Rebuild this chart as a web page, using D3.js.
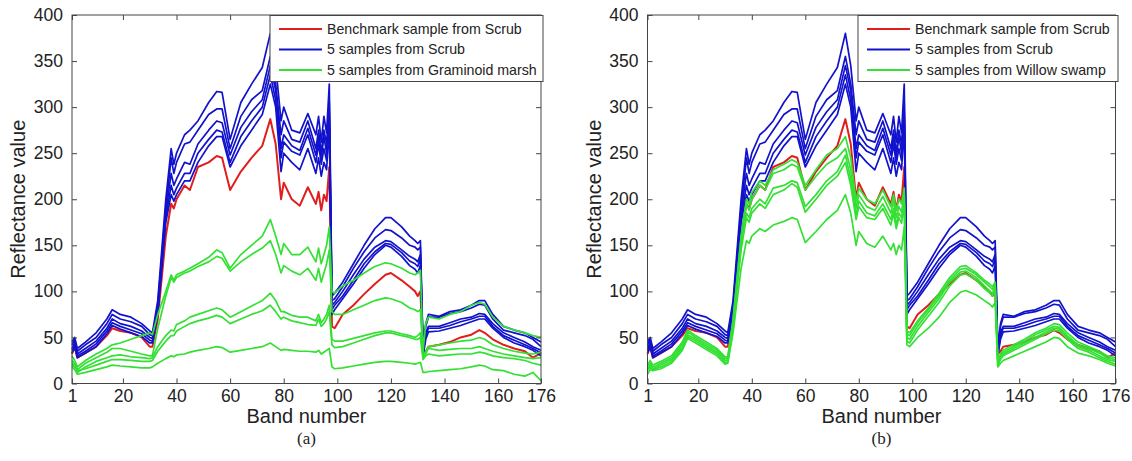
<!DOCTYPE html>
<html><head><meta charset="utf-8">
<script src="https://cdn.jsdelivr.net/npm/d3@7"></script>
<style>body{margin:0;background:#fff}svg{display:block}</style>
</head><body>
<svg id="chart" width="1132" height="461"></svg>
<script>
// ---------- data ----------
const bands = [1,2,3,6,10,14,16,19,23,27,30,31,33,36,38,39,40,43,45,48,52,55,57,60,64,68,72,75,77,79,80,83,86,89,92,93,94,95,96,97,98,99,102,106,110,114,118,120,124,127,129,130,131,132,133,134,138,142,146,150,153,155,158,162,166,170,173,176];
const xTickValues = [1,20,40,60,80,100,120,140,160,176];
const yTickValues = [0,50,100,150,200,250,300,350,400];

const benchmarkScrub = [32,40,28,33,40,52,60,57,55,50, 40,40,70,160,195,190,200,215,210,235, 240,247,245,210,230,245,258,287,260,200, 218,200,193,213,195,208,188,205,198,235, 62,60,75,85,97,108,118,120,112,105, 100,95,100,32,35,40,42,45,50,53, 58,55,48,42,38,35,28,33];

const scrub1 = [45,50,38,45,55,70,80,75,72,65, 57,55,90,200,255,238,250,270,275,285, 305,317,316,265,305,325,343,380,345,285, 300,275,272,293,270,290,262,290,272,325, 95,98,110,130,150,168,180,180,170,160, 155,152,155,38,65,75,73,78,80,85, 90,90,75,62,58,55,50,45];
const scrub2 = [42,48,35,42,50,65,75,70,67,62, 53,52,85,190,245,228,240,260,262,275, 292,298,298,255,290,308,318,355,325,270, 285,265,262,285,255,275,250,275,260,305, 90,92,105,125,143,158,167,166,158,150, 148,145,148,35,62,72,72,76,78,82, 86,85,70,58,55,52,48,40];
const scrub3 = [38,45,32,38,46,60,70,65,62,57, 50,49,80,185,228,215,222,240,238,260, 275,285,283,248,278,295,308,345,318,255, 270,258,253,277,248,268,245,268,250,295, 85,88,100,118,135,148,155,154,145,138, 135,132,140,33,55,62,62,66,70,72, 76,75,65,55,50,45,40,36];
const scrub4 = [36,42,30,35,43,57,66,62,58,54, 47,46,78,180,215,205,212,228,228,250, 265,275,273,240,268,285,300,335,308,245, 262,252,248,270,240,260,238,255,242,288, 80,85,95,112,130,143,152,151,142,133, 130,127,135,32,52,60,60,63,67,70, 73,73,62,52,47,42,38,33];
const scrub5 = [33,40,28,33,40,54,63,59,55,51, 44,44,75,175,205,198,205,220,220,240, 258,268,268,235,258,275,292,325,300,230, 250,240,232,255,228,245,225,240,232,280, 75,80,92,108,125,140,150,148,138,128, 124,120,128,30,48,56,57,60,63,67, 70,70,60,50,44,40,36,30];

const graminoid1 = [30,25,18,25,32,38,42,44,48,52, 55,53,75,100,118,112,118,122,125,130, 137,145,142,125,140,150,160,178,160,140, 152,140,140,148,132,147,130,140,150,170, 100,98,106,112,120,127,131,130,125,120, 118,120,123,35,65,72,70,75,78,85, 88,86,72,62,58,55,52,50];
const graminoid2 = [25,22,15,22,28,34,38,38,35,32, 30,30,60,95,115,110,115,120,122,127, 132,138,136,122,132,140,147,155,140,120, 128,122,118,125,112,125,110,120,130,145, 78,75,75,80,85,90,93,92,88,82, 80,78,80,30,35,40,42,44,46,47, 50,48,42,38,35,33,32,34];
const graminoid3 = [22,20,12,18,24,28,30,31,29,28, 27,28,40,52,58,57,64,68,72,75, 79,82,80,72,78,84,90,98,90,78, 78,74,72,72,68,75,66,70,75,85, 48,46,46,49,52,55,57,57,54,52, 50,52,55,28,32,38,36,37,38,38, 40,38,35,32,30,28,27,28];
const graminoid4 = [20,18,14,16,20,24,26,26,25,24, 24,25,35,46,52,52,57,62,65,68, 71,74,72,65,70,75,79,85,78,70, 72,68,66,64,63,70,62,65,70,78, 42,39,40,44,48,52,55,55,52,50, 48,48,50,26,30,32,30,31,32,32, 34,33,30,28,27,25,22,20];
const graminoid5 = [18,15,10,12,15,18,20,19,18,17, 17,18,22,27,30,29,31,32,34,36, 38,40,39,34,36,38,40,44,40,36, 37,36,35,35,34,36,32,34,36,38, 18,16,17,19,21,23,24,24,23,22, 21,22,23,12,12,13,14,15,16,18, 20,19,15,14,10,8,12,3];

const willow1 = [20,25,20,24,30,45,58,52,45,38, 29,29,70,160,200,195,207,220,215,232, 238,243,240,215,232,248,255,268,245,198, 212,200,195,210,192,205,188,200,195,212, 57,55,68,82,98,115,127,128,120,112, 108,105,110,25,32,36,42,48,55,60, 65,64,55,45,40,35,30,28];
const willow2 = [18,22,18,22,28,43,56,50,43,36, 27,27,68,158,195,188,200,215,210,228, 232,238,235,210,225,238,245,255,232,190, 205,192,188,203,185,198,180,192,186,207, 54,52,66,80,95,112,124,125,118,110, 105,102,108,23,30,34,40,46,53,58, 62,61,52,42,38,33,28,26];
const willow3 = [16,20,16,20,26,40,53,48,41,34, 25,25,65,150,185,180,190,200,195,212, 215,220,218,192,205,220,230,248,222,182, 198,185,182,195,178,190,172,185,180,200, 50,48,62,77,92,110,121,122,115,106, 100,98,105,21,28,32,38,44,50,56, 60,59,50,40,36,30,26,24];
const willow4 = [14,18,15,18,24,38,51,46,39,32, 23,23,62,145,180,175,185,195,190,205, 210,217,213,186,200,215,225,240,215,178, 192,180,178,190,172,185,168,180,174,195, 46,44,58,73,88,106,118,119,112,103, 98,95,102,19,26,30,36,42,48,54, 58,57,48,38,34,28,24,21];
const willow5 = [10,15,14,16,22,36,49,44,37,30, 21,22,55,125,155,152,160,168,165,172, 176,180,178,153,165,178,188,205,185,150, 165,152,148,160,145,152,140,150,145,170, 42,40,50,60,72,88,99,101,96,90, 86,83,88,18,22,25,30,35,40,45, 50,49,40,33,30,26,22,19];

const legendA = ["Benchmark sample from Scrub","5 samples from Scrub","5 samples from Graminoid marsh"];
const legendB = ["Benchmark sample from Scrub","5 samples from Scrub","5 samples from Willow swamp"];
const panelLabels = ["(a)","(b)"];
const xTitle = "Band number";
const yTitle = "Reflectance value";

// ---------- styles / layout ----------
const RED = "#e01e1e", BLUE = "#1212cc", GREEN = "#33e033";
const FONT = "'Liberation Sans', Arial, Helvetica, sans-serif";
const AXC = "#444";
const plotTop = 15, plotBottom = 383.5;

const panels = [
  {x0: 72, x1: 541, label: panelLabels[0], others: [graminoid1,graminoid2,graminoid3,graminoid4,graminoid5], legend: legendA, lg: {x: 270, w: 273}},
  {x0: 647.5, x1: 1115.5, label: panelLabels[1], others: [willow1,willow2,willow3,willow4,willow5], legend: legendB, lg: {x: 858, w: 260}}
];
const scrubs = [scrub1,scrub2,scrub3,scrub4,scrub5];

const svg = d3.select("#chart");

panels.forEach(p => {
  const x = d3.scaleLinear().domain([1,176]).range([p.x0, p.x1]);
  const y = d3.scaleLinear().domain([0,400]).range([plotBottom, plotTop]);
  const g = svg.append("g");

  const line = d3.line().x((d,i) => x(bands[i])).y(d => y(d));

  const series = [];
  series.push({v: benchmarkScrub, c: RED, w: 2});
  scrubs.forEach(s => series.push({v: s, c: BLUE, w: 1.7}));
  p.others.forEach(s => series.push({v: s, c: GREEN, w: 1.7}));

  g.append("g").selectAll("path").data(series).join("path")
    .attr("d", d => line(d.v))
    .attr("fill","none").attr("stroke", d => d.c).attr("stroke-width", d => d.w)
    .attr("stroke-linejoin","round");

  const ax = d3.axisBottom(x).tickValues(xTickValues).tickSizeInner(-5).tickSizeOuter(0).tickPadding(6).tickFormat(d3.format("d"));
  const axT = d3.axisTop(x).tickValues(xTickValues).tickSizeInner(-5).tickSizeOuter(0).tickFormat("");
  const ay = d3.axisLeft(y).tickValues(yTickValues).tickSizeInner(-5).tickSizeOuter(0).tickPadding(9);
  const ayR = d3.axisRight(y).tickValues(yTickValues).tickSizeInner(-5).tickSizeOuter(0).tickFormat("");

  const gx = g.append("g").attr("transform",`translate(0,${plotBottom})`).call(ax);
  const gxt = g.append("g").attr("transform",`translate(0,${plotTop})`).call(axT);
  const gy = g.append("g").attr("transform",`translate(${p.x0},0)`).call(ay);
  const gyr = g.append("g").attr("transform",`translate(${p.x1},0)`).call(ayR);
  [gx,gxt,gy,gyr].forEach(a => {
    a.select(".domain").remove();
    a.selectAll("line").attr("stroke", AXC);
    a.selectAll("text").attr("font-family", FONT).attr("font-size", 17.5).attr("fill","#222");
  });
  g.append("rect").attr("x", p.x0).attr("y", plotTop).attr("width", p.x1 - p.x0).attr("height", plotBottom - plotTop)
    .attr("fill","none").attr("stroke", AXC).attr("stroke-width", 1);

  const cx = (p.x0 + p.x1) / 2;
  g.append("text").attr("x", cx).attr("y", 423).attr("text-anchor","middle")
    .attr("font-family", FONT).attr("font-size", 20).attr("fill","#222").text(xTitle);
  g.append("text").attr("transform", `translate(${p.x0 - 47},${(plotTop+plotBottom)/2}) rotate(-90)`)
    .attr("text-anchor","middle").attr("font-family", FONT).attr("font-size", 20).attr("fill","#222").text(yTitle);
  g.append("text").attr("x", cx).attr("y", 444).attr("text-anchor","middle")
    .attr("font-family", "'Liberation Serif', 'Times New Roman', serif").attr("font-size", 17).attr("fill","#222").text(p.label);

  const lg = g.append("g");
  lg.append("rect").attr("x", p.lg.x).attr("y", plotTop + 0.5).attr("width", p.lg.w).attr("height", 66)
    .attr("fill","#fff").attr("stroke", AXC).attr("stroke-width", 1);
  const cols = [RED, BLUE, GREEN];
  p.legend.forEach((t, i) => {
    const yy = 29 + i * 20.5;
    lg.append("line").attr("x1", p.lg.x + 9).attr("x2", p.lg.x + 52).attr("y1", yy).attr("y2", yy)
      .attr("stroke", cols[i]).attr("stroke-width", i === 0 ? 2.2 : 1.8);
    lg.append("text").attr("x", p.lg.x + 57).attr("y", yy).attr("dy","0.35em")
      .attr("font-family", FONT).attr("font-size", 14.2).attr("fill","#222").text(t);
  });
});
</script>
</body></html>
